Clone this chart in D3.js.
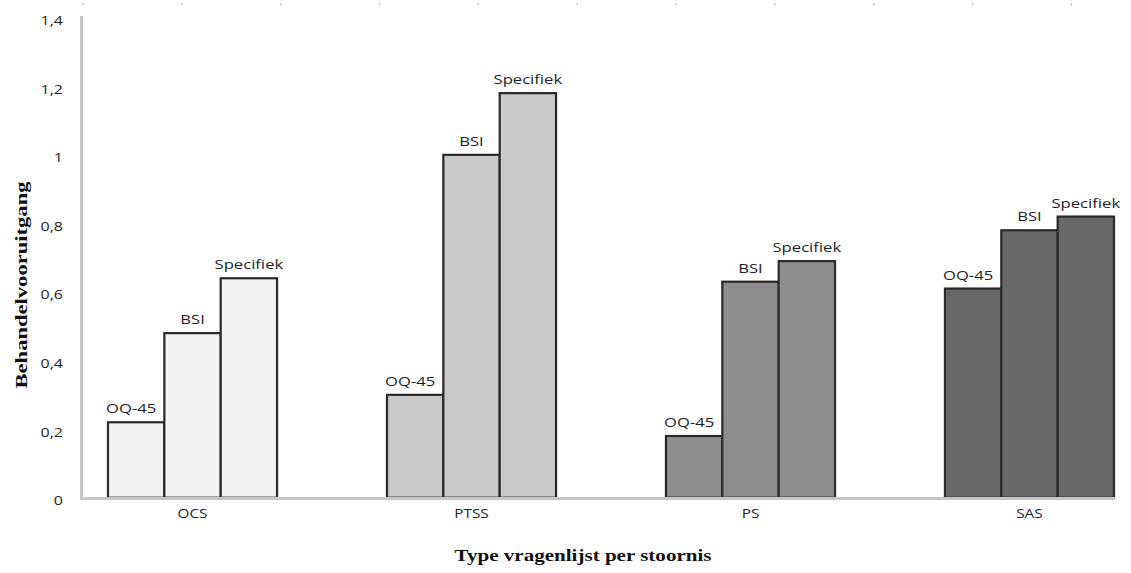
<!DOCTYPE html>
<html>
<head>
<meta charset="utf-8">
<script src="https://cdn.jsdelivr.net/npm/d3@7"></script>
<style>
  html, body { margin: 0; padding: 0; background: #fff; }
  svg { display: block; }
</style>
</head>
<body>
<svg id="chart" width="1131" height="573"></svg>
<script>
// ---- data ----
const categories = ["OCS", "PTSS", "PS", "SAS"];
const seriesNames = ["OQ-45", "BSI", "Specifiek"];
const ocsValues  = [0.22, 0.48, 0.64];
const ptssValues = [0.30, 1.00, 1.18];
const psValues   = [0.18, 0.63, 0.69];
const sasValues  = [0.61, 0.78, 0.82];
const yTickValues = [0, 0.2, 0.4, 0.6, 0.8, 1.0, 1.2, 1.4];
const yTitle = "Behandelvooruitgang";
const xTitle = "Type vragenlijst per stoornis";

const valuesByCategory = [ocsValues, ptssValues, psValues, sasValues];
const rows = [];
categories.forEach((c, i) => seriesNames.forEach((s, j) => rows.push({cat: c, ser: s, value: valuesByCategory[i][j]})));

// ---- styles ----
const fills = {"OCS": "#f3f3f3", "PTSS": "#c9c9c9", "PS": "#8e8e8e", "SAS": "#686868"};
const SX = 1.28; // horizontal stretch of the source image
const sansFont = "'Open Sans', sans-serif";
const serifFont = "'Liberation Serif', 'Times New Roman', serif";
const labelDx = {"OQ-45": -5, "BSI": 0, "Specifiek": 0};

const svg = d3.select("#chart");
const axisX = 81, axisRight = 1115;

const x = d3.scaleBand().domain(categories).range([108, 1114]).paddingInner(0.394).paddingOuter(0);
const xs = d3.scaleBand().domain(seriesNames).range([0, x.bandwidth()]).padding(0);
const y = d3.scaleLinear().domain([0, 1.4]).range([497.7, 17.7]);

const locale = d3.formatLocale({decimal: ",", thousands: ".", grouping: [3], currency: ["€", ""]});
const fmt = locale.format("~g");

function stretch(sel) {
  sel.each(function() {
    const t = d3.select(this);
    const tx = +t.attr("x") || 0, ty = +t.attr("y") || 0;
    t.attr("x", 0).attr("y", 0).attr("transform", `translate(${tx},${ty}) scale(${SX},1)`);
  });
}

// top specks
const speck = d3.scaleLinear().domain([0, 10]).range([83, 1071]);
svg.append("g").selectAll("rect").data(d3.range(11)).join("rect")
  .attr("x", d => speck(d) - 0.5).attr("y", 3.5).attr("width", 1.5).attr("height", 1.5)
  .attr("fill", "#b0b0b0");

// y axis
const yAxis = d3.axisLeft(y).tickValues(yTickValues).tickFormat(fmt).tickSize(0).tickPadding(18);
const gy = svg.append("g").attr("transform", `translate(${axisX},0)`).call(yAxis);
gy.select(".domain").remove();
gy.selectAll("text").attr("font-family", sansFont).attr("font-size", 12.5).attr("fill", "#1e1e28")
  .attr("dy", "0.55em").call(stretch);

// bars
const g = svg.append("g");
g.selectAll("rect.bar").data(rows).join("rect").attr("class", "bar")
  .attr("x", d => x(d.cat) + xs(d.ser))
  .attr("y", d => y(d.value))
  .attr("width", xs.bandwidth())
  .attr("height", d => y(0) - y(d.value))
  .attr("fill", d => fills[d.cat])
  .attr("stroke", "#2a2a2a").attr("stroke-width", 2.2);

// bar labels
g.selectAll("text.lbl").data(rows).join("text").attr("class", "lbl")
  .attr("x", d => x(d.cat) + xs(d.ser) + xs.bandwidth() / 2 + labelDx[d.ser])
  .attr("y", d => y(d.value) - 9)
  .attr("text-anchor", "middle")
  .attr("font-family", sansFont).attr("font-size", 13).attr("fill", "#1e1e28")
  .text(d => d.ser).call(stretch);

// axis lines
svg.append("line").attr("x1", axisX + 0.5).attr("x2", axisX + 0.5).attr("y1", 16).attr("y2", 499)
  .attr("stroke", "#c6c6c6").attr("stroke-width", 3);
svg.append("line").attr("x1", axisX - 1).attr("x2", axisRight).attr("y1", 498.5).attr("y2", 498.5)
  .attr("stroke", "#c6c6c6").attr("stroke-width", 3);

// x axis (category labels)
const xAxis = d3.axisBottom(x).tickSize(0).tickPadding(12);
const gx = svg.append("g").attr("transform", `translate(0,${y(0)})`).call(xAxis);
gx.select(".domain").remove();
gx.selectAll("text").attr("font-family", sansFont).attr("font-size", 12).attr("fill", "#1e1e28").call(stretch);

// titles
svg.append("text").attr("x", 583).attr("y", 561).attr("text-anchor", "middle")
  .attr("font-family", serifFont).attr("font-weight", "bold").attr("font-size", 16.5).attr("fill", "#111")
  .attr("textLength", 257).attr("lengthAdjust", "spacingAndGlyphs").text(xTitle);
svg.append("text").attr("transform", "translate(27,285) rotate(-90)").attr("text-anchor", "middle")
  .attr("font-family", serifFont).attr("font-weight", "bold").attr("font-size", 17).attr("fill", "#111")
  .attr("textLength", 207).attr("lengthAdjust", "spacingAndGlyphs").text(yTitle);
</script>
</body>
</html>
